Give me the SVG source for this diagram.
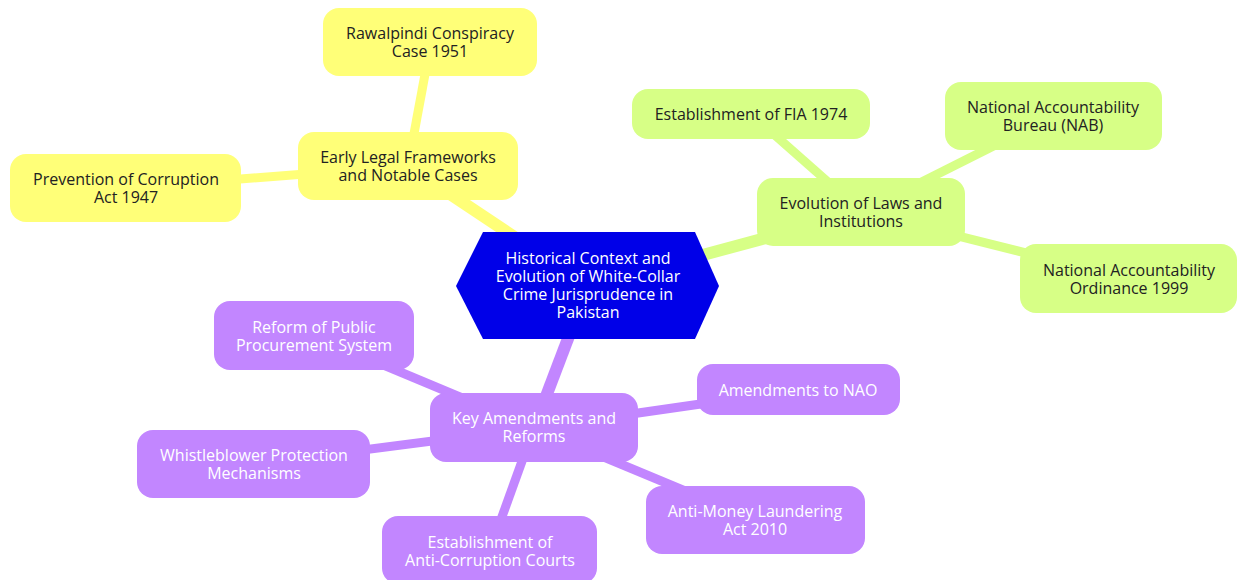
<svg xmlns="http://www.w3.org/2000/svg" width="1237" height="580" viewBox="0 0 1237 580">
<style>
text{font-family:"Open Sans","Liberation Sans",sans-serif;font-size:16px;text-anchor:middle}
.y rect{fill:#ffff78}.y text{fill:#222}
.g rect{fill:#d7ff86}.g text{fill:#222}
.p rect{fill:#c286ff}.p text{fill:#fff}
.ey{stroke:#ffff78}.eg{stroke:#d7ff86}.ep{stroke:#c286ff}
.w1{stroke-width:12}.w2{stroke-width:9}
</style>
<rect width="1237" height="580" fill="#fff"/>
<g id="connectors">
<line class="ey w1" x1="588" y1="286" x2="408" y2="166"/>
<line class="eg w1" x1="588" y1="286" x2="862" y2="212"/>
<line class="ep w1" x1="588" y1="286" x2="534" y2="428"/>
<line class="ey w2" x1="408" y1="166" x2="431" y2="42"/>
<line class="ey w2" x1="408" y1="166" x2="126" y2="188"/>
<line class="eg w2" x1="862" y1="212" x2="751" y2="114"/>
<line class="eg w2" x1="862" y1="212" x2="1053" y2="116"/>
<line class="eg w2" x1="862" y1="212" x2="1130" y2="279"/>
<line class="ep w2" x1="534" y1="428" x2="314" y2="336"/>
<line class="ep w2" x1="534" y1="428" x2="798" y2="390"/>
<line class="ep w2" x1="534" y1="428" x2="254" y2="464"/>
<line class="ep w2" x1="534" y1="428" x2="755" y2="520"/>
<line class="ep w2" x1="534" y1="428" x2="490" y2="550"/>
</g>
<g id="root">
<polygon points="456,286 483,232 695,232 719,286 695,339 483,339" fill="#0000e8"/>
<text fill="#fff" x="588" y="264"><tspan x="588">Historical Context and</tspan><tspan x="588" dy="18">Evolution of White-Collar</tspan><tspan x="588" dy="18">Crime Jurisprudence in</tspan><tspan x="588" dy="18">Pakistan</tspan></text>
</g>
<g id="early" class="y"><rect x="298" y="132" width="220" height="68" rx="16"/><text x="408" y="163"><tspan x="408">Early Legal Frameworks</tspan><tspan x="408" dy="18">and Notable Cases</tspan></text></g>
<g id="rawalpindi" class="y"><rect x="323" y="8" width="214" height="68" rx="16"/><text x="430" y="39"><tspan x="430">Rawalpindi Conspiracy</tspan><tspan x="430" dy="18">Case 1951</tspan></text></g>
<g id="prevention" class="y"><rect x="10" y="154" width="231" height="68" rx="16"/><text x="126" y="185"><tspan x="126">Prevention of Corruption</tspan><tspan x="126" dy="18">Act 1947</tspan></text></g>
<g id="evolution" class="g"><rect x="757" y="178" width="208" height="68" rx="16"/><text x="861" y="209"><tspan x="861">Evolution of Laws and</tspan><tspan x="861" dy="18">Institutions</tspan></text></g>
<g id="fia" class="g"><rect x="632" y="89" width="238" height="50" rx="16"/><text x="751" y="120">Establishment of FIA 1974</text></g>
<g id="nab" class="g"><rect x="945" y="82" width="217" height="68" rx="16"/><text x="1053" y="113"><tspan x="1053">National Accountability</tspan><tspan x="1053" dy="18">Bureau (NAB)</tspan></text></g>
<g id="nao1999" class="g"><rect x="1020" y="244" width="217" height="69" rx="16"/><text x="1129" y="276"><tspan x="1129">National Accountability</tspan><tspan x="1129" dy="18">Ordinance 1999</tspan></text></g>
<g id="key" class="p"><rect x="430" y="393" width="208" height="69" rx="16"/><text x="534" y="424"><tspan x="534">Key Amendments and</tspan><tspan x="534" dy="18">Reforms</tspan></text></g>
<g id="reform" class="p"><rect x="214" y="301" width="200" height="69" rx="16"/><text x="314" y="333"><tspan x="314">Reform of Public</tspan><tspan x="314" dy="18">Procurement System</tspan></text></g>
<g id="naoamend" class="p"><rect x="697" y="364" width="203" height="51" rx="16"/><text x="798" y="396">Amendments to NAO</text></g>
<g id="whistle" class="p"><rect x="137" y="430" width="233" height="68" rx="16"/><text x="254" y="461"><tspan x="254">Whistleblower Protection</tspan><tspan x="254" dy="18">Mechanisms</tspan></text></g>
<g id="aml" class="p"><rect x="646" y="486" width="219" height="68" rx="16"/><text x="755" y="517"><tspan x="755">Anti-Money Laundering</tspan><tspan x="755" dy="18">Act 2010</tspan></text></g>
<g id="courts" class="p"><rect x="382" y="516" width="215" height="68" rx="16"/><text x="490" y="548"><tspan x="490">Establishment of</tspan><tspan x="490" dy="18">Anti-Corruption Courts</tspan></text></g>
</svg>
